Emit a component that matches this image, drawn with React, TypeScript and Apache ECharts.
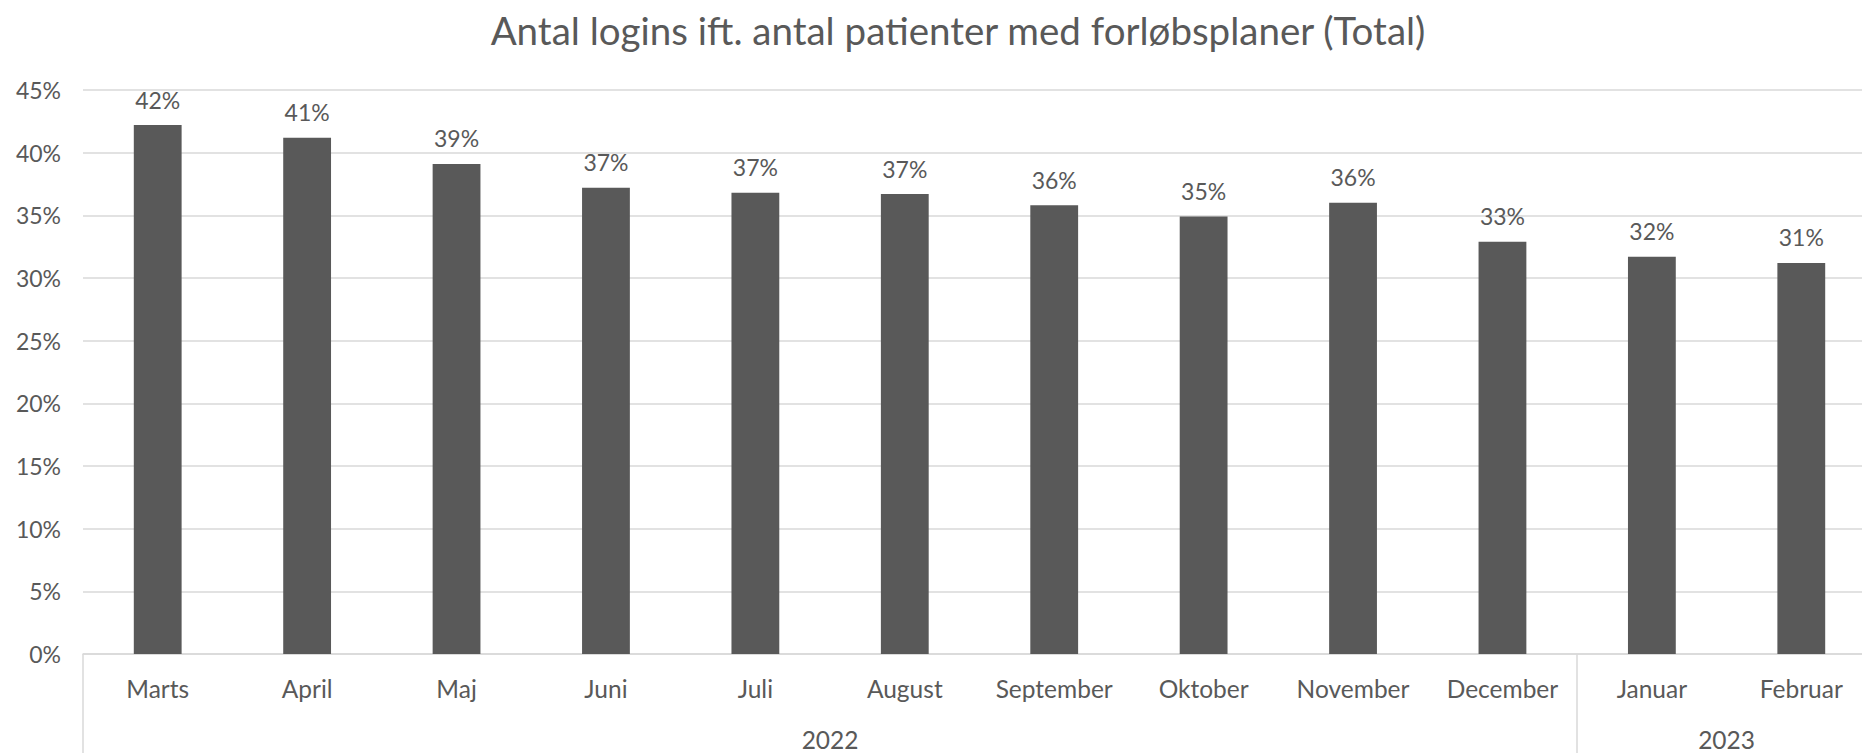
import React, { useEffect, useRef } from "react";
import * as echarts from "echarts";

const title = "Antal logins ift. antal patienter med forløbsplaner (Total)";
const months = ["Marts", "April", "Maj", "Juni", "Juli", "August", "September", "Oktober", "November", "December", "Januar", "Februar"];
const values = [42.2, 41.2, 39.1, 37.2, 36.8, 36.7, 35.8, 34.9, 36.0, 32.9, 31.7, 31.2];
const years = ["2022", "2023"];
const yearCenters = [5, 11];
const yearBounds = [0, 10, 12];
const yTicks = { min: 0, max: 45, interval: 5 };

const FONT = "Lato";
const TEXT = "#595959";
const GRID = "#d9d9d9";

export default function App() {
  const ref = useRef<HTMLDivElement>(null);
  useEffect(() => {
    const chart = echarts.init(ref.current!, null, { renderer: "svg" });
    chart.setOption({
      animation: false,
      title: {
        text: title,
        left: 953,
        textAlign: "center",
        top: 5,
        textStyle: { fontFamily: FONT, fontSize: 38.5, fontWeight: "normal", color: TEXT },
      },
      grid: { left: 83, right: 0, top: 90, bottom: 99, containLabel: false },
      xAxis: [
        {
          type: "category",
          data: months,
          axisLine: { lineStyle: { color: GRID, width: 1.5 } },
          axisTick: { show: false },
          axisLabel: { color: TEXT, fontFamily: FONT, fontSize: 24.5, margin: 22, interval: 0 },
        },
        {
          type: "value",
          min: 0,
          max: 12,
          interval: 1,
          position: "bottom",
          axisLine: { show: false },
          splitLine: { show: false },
          axisTick: { show: true, customValues: yearBounds, length: 110, lineStyle: { color: GRID, width: 1.5 } },
          axisLabel: {
            customValues: yearCenters,
            color: TEXT,
            fontFamily: FONT,
            fontSize: 24.5,
            margin: 73,
            formatter: (v: number) => {
              const i = yearCenters.indexOf(v);
              return i >= 0 ? years[i] : "";
            },
          },
        },
      ],
      yAxis: {
        type: "value",
        min: yTicks.min,
        max: yTicks.max,
        interval: yTicks.interval,
        axisLine: { show: false },
        axisTick: { show: false },
        splitLine: { lineStyle: { color: GRID, width: 1.5 } },
        axisLabel: { formatter: "{value}%", color: TEXT, fontFamily: FONT, fontSize: 23, margin: 22 },
      },
      series: [
        {
          type: "bar",
          data: values,
          xAxisIndex: 0,
          barWidth: "32%",
          itemStyle: { color: "#595959" },
          label: {
            show: true,
            position: "top",
            distance: 14,
            color: TEXT,
            fontFamily: FONT,
            fontSize: 23,
            formatter: (p: any) => Math.round(p.value) + "%",
          },
        },
      ],
    });
    return () => chart.dispose();
  }, []);
  return (
    <div style={{ position: "fixed", left: 0, top: 0, width: 1862, height: 753, overflow: "hidden", background: "#fff" }}>
      <div ref={ref} style={{ width: 1876, height: 753 }} />
    </div>
  );
}
